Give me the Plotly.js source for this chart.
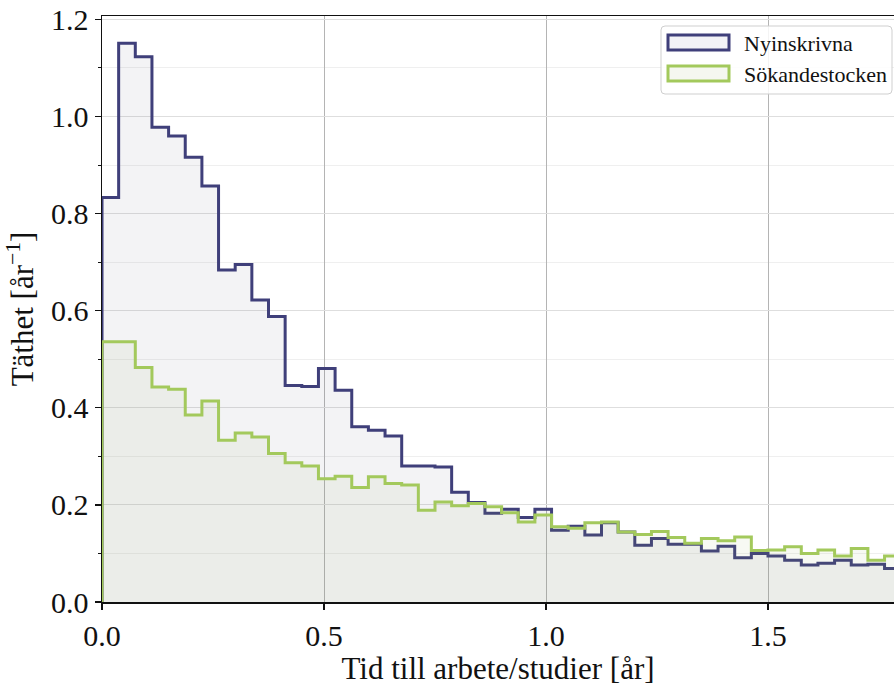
<!DOCTYPE html>
<html><head><meta charset="utf-8">
<script src="https://cdn.plot.ly/plotly-3.0.1.min.js"></script>
<style>html,body{margin:0;padding:0;overflow:hidden;background:#fff}</style>
</head><body><div id="chart" style="width:894px;height:689px"></div>
<script>
const binWidth = 0.0375;
const seriesNames = ["Nyinskrivna", "Sökandestocken"];
const nyinskrivna = [0.833,1.151,1.123,0.978,0.960,0.916,0.857,0.684,0.695,0.622,0.588,0.446,0.444,0.481,0.436,0.361,0.354,0.342,0.280,0.280,0.278,0.226,0.205,0.183,0.191,0.174,0.191,0.148,0.156,0.138,0.163,0.144,0.117,0.131,0.119,0.119,0.105,0.115,0.091,0.100,0.095,0.086,0.076,0.080,0.086,0.076,0.078,0.069];
const sokandestocken = [0.536,0.536,0.483,0.443,0.438,0.385,0.414,0.333,0.348,0.340,0.306,0.287,0.280,0.254,0.259,0.236,0.258,0.244,0.241,0.189,0.206,0.198,0.203,0.196,0.184,0.165,0.179,0.155,0.152,0.163,0.165,0.144,0.139,0.145,0.133,0.121,0.131,0.126,0.134,0.106,0.107,0.114,0.100,0.107,0.095,0.110,0.086,0.095];
const xTickVals = [0, 0.5, 1.0, 1.5];
const xTickText = ["0.0", "0.5", "1.0", "1.5"];
const yTickVals = [0, 0.2, 0.4, 0.6, 0.8, 1.0, 1.2];
const yTickText = ["0.0", "0.2", "0.4", "0.6", "0.8", "1.0", "1.2"];

const BLUE = '#3f3f7a', GREEN = '#a3c95c';
const FONT = 'Liberation Serif, Times New Roman, serif';

function stepTrace(vals, name, color, fill, opacity) {
  const edges = vals.map((_, i) => i * binWidth);
  const x = [0].concat(edges, [vals.length * binWidth]);
  const y = [0].concat(vals, [0]);
  return {x, y, name, type: 'scatter', mode: 'lines', line: {shape: 'hv', color, width: 3},
    fill: 'tozeroy', fillcolor: fill, opacity, showlegend: false, hoverinfo: 'skip'};
}

const W = 894, H = 689, L = 102, R = 0, T = 16, B = 87;
const px = v => (v - L) / (W - L - R);
const py = v => (H - B - v) / (H - T - B);

const shapes = [
  {type: 'path', xref: 'paper', yref: 'paper', layer: 'above',
   path: (() => {
     const x0 = 661, x1 = 892, y0 = 26, y1 = 94, r = 4;
     const P = (a, b) => px(a) + ',' + py(b);
     return 'M' + P(x0 + r, y0) + ' L' + P(x1 - r, y0) + ' Q' + P(x1, y0) + ' ' + P(x1, y0 + r) +
       ' L' + P(x1, y1 - r) + ' Q' + P(x1, y1) + ' ' + P(x1 - r, y1) + ' L' + P(x0 + r, y1) +
       ' Q' + P(x0, y1) + ' ' + P(x0, y1 - r) + ' L' + P(x0, y0 + r) + ' Q' + P(x0, y0) + ' ' + P(x0 + r, y0) + ' Z';
   })(),
   fillcolor: 'rgba(255,255,255,0.85)', line: {color: '#cfcfcf', width: 1}},
  {type: 'rect', xref: 'paper', yref: 'paper', layer: 'above', x0: px(668), x1: px(729), y0: py(35), y1: py(50),
   fillcolor: 'rgba(242,242,246,1)', line: {color: BLUE, width: 3}},
  {type: 'rect', xref: 'paper', yref: 'paper', layer: 'above', x0: px(668), x1: px(729), y0: py(66), y1: py(81),
   fillcolor: 'rgba(245,247,240,1)', line: {color: GREEN, width: 3}}
];

const annotations = [
  {xref: 'paper', yref: 'paper', x: px(742), y: py(43), xanchor: 'left', yanchor: 'middle', showarrow: false,
   text: seriesNames[0], font: {family: FONT, size: 22, color: '#111'}},
  {xref: 'paper', yref: 'paper', x: px(742), y: py(74), xanchor: 'left', yanchor: 'middle', showarrow: false,
   text: seriesNames[1], font: {family: FONT, size: 22, color: '#111'}}
];

const data = [
  stepTrace(nyinskrivna, seriesNames[0], BLUE, 'rgba(70,70,110,0.065)', 1),
  stepTrace(sokandestocken, seriesNames[1], GREEN, 'rgba(150,180,100,0.075)', 0.9)
];

const layout = {
  width: W, height: H,
  margin: {l: L, r: R, t: T, b: B, pad: 0},
  paper_bgcolor: '#fff', plot_bgcolor: '#fff',
  font: {family: FONT, color: '#111'},
  showlegend: false,
  xaxis: {range: [0, (W - L - R) / 444], tickvals: xTickVals, ticktext: xTickText,
    showgrid: true, gridcolor: '#b4b4b4', gridwidth: 1, zeroline: false,
    showline: true, linecolor: '#111', linewidth: 1.5, mirror: true,
    ticks: 'outside', ticklen: 6, tickwidth: 1.2, tickcolor: '#111',
    tickfont: {family: FONT, size: 30, color: '#111'},
    title: {text: 'Tid till arbete/studier [år]', font: {family: FONT, size: 31, color: '#111'}, standoff: 5}},
  yaxis: {range: [0, 1.207], tickvals: yTickVals, ticktext: yTickText,
    showgrid: true, gridcolor: '#dedede', gridwidth: 1, zeroline: false,
    showline: true, linecolor: '#111', linewidth: 1.5,
    ticks: 'outside', ticklen: 6, tickwidth: 1.2, tickcolor: '#111',
    minor: {dtick: 0.1, tick0: 0, ticks: 'outside', ticklen: 3, tickcolor: '#111', tickwidth: 1, showgrid: true, gridcolor: '#efefef'},
    tickfont: {family: FONT, size: 30, color: '#111'},
    title: {text: 'Täthet [år<sup>−1</sup>]', font: {family: FONT, size: 31, color: '#111'}, standoff: 8}},
  shapes, annotations
};

Plotly.newPlot('chart', data, layout, {displayModeBar: false, staticPlot: true});
</script></body></html>
